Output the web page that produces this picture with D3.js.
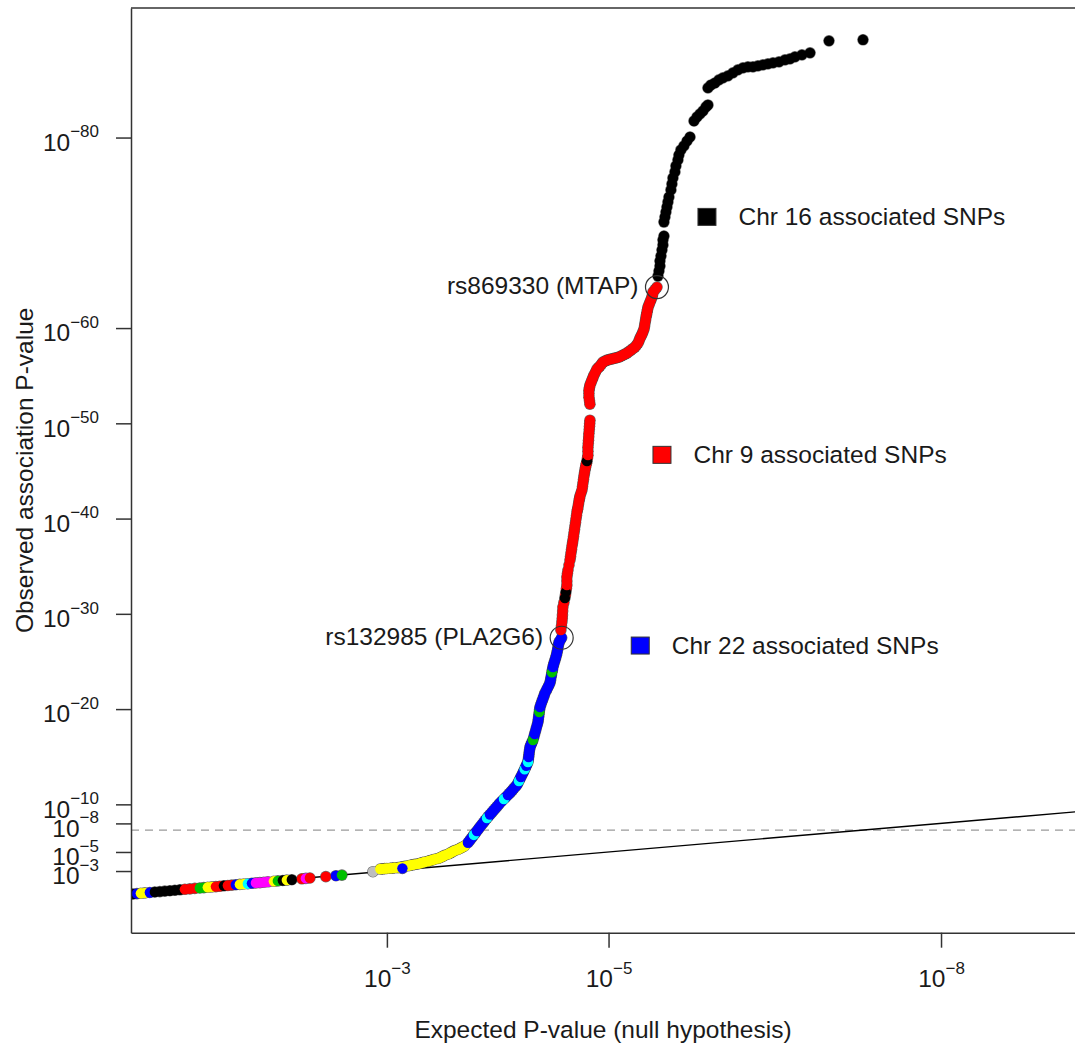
<!DOCTYPE html>
<html><head><meta charset="utf-8">
<script src="https://cdn.jsdelivr.net/npm/d3@7"></script>
<style>
body{margin:0;background:#fff}
svg{display:block}
text{font-family:"Liberation Sans",Arial,Helvetica,sans-serif;fill:#1a1a1a}
</style>
</head><body>
<svg id="chart" width="1075" height="1055"></svg>
<script>
// ---------- DATA (values are -log10 P) ----------
const xTickValues = [3, 5, 8];
const yTickValues = [3, 5, 8, 10, 20, 30, 40, 50, 60, 80];
const gwsThreshold = 7.301; // 5e-8

// genome-wide background (low end)
const lowExp = [0.708,0.744,0.780,0.816,0.861,0.906,0.951,0.996,1.042,1.087,1.132,1.177,1.222,1.267,1.312,1.348,1.384,1.421,1.457,1.493,1.529,1.565,1.601,1.637,1.673,1.709,1.745,1.782,1.818,1.854,1.890,1.926,1.980,2.016,2.061,2.097,2.142,2.233,2.269,2.305,2.449,2.540,2.594,2.874];
const lowObs = [0.588,0.630,0.661,0.703,0.745,0.798,0.840,0.892,0.934,0.987,1.029,1.081,1.123,1.175,1.217,1.259,1.291,1.333,1.364,1.406,1.448,1.480,1.522,1.564,1.595,1.637,1.669,1.711,1.753,1.784,1.826,1.868,1.921,1.963,2.005,2.047,2.089,2.183,2.225,2.267,2.414,2.508,2.571,2.930];
const lowChr = ['k','b','y','y','b','k','k','k','k','k','k','r','r','r','g','g','y','y','r','r','k','r','r','b','y','y','c','b','m','m','m','m','y','g','k','y','k','r','m','r','r','b','g','gr'];

// yellow band
const midFillExp = [2.96,3.00,3.05,3.10,3.14,3.19,3.23,3.28,3.32,3.37,3.41,3.46,3.50,3.55,3.59,3.64,3.68];
const midFillObs = [3.23,3.27,3.31,3.36,3.44,3.55,3.65,3.75,3.88,4.02,4.16,4.32,4.52,4.76,5.01,5.26,5.50];
const midExp = [2.94,2.98,3.03,3.07,3.12,3.16,3.21,3.25,3.30,3.34,3.39,3.43,3.48,3.52,3.57,3.61,3.66,3.70,3.14];
const midObs = [3.21,3.25,3.29,3.34,3.39,3.49,3.60,3.70,3.81,3.95,4.09,4.24,4.40,4.64,4.89,5.14,5.38,5.63,3.28];
const midChr = ['y','y','y','y','y','y','y','y','y','y','y','y','y','y','y','y','y','y','b'];

// chr 22 associated
const c22FillExp = [3.745,3.772,3.799,3.826,3.855,3.887,3.917,3.946,3.977,4.007,4.038,4.074,4.106,4.133,4.160,4.182,4.200,4.218,4.235,4.250,4.265,4.276,4.282,4.288,4.298,4.311,4.326,4.341,4.356,4.366,4.372,4.378,4.389,4.404,4.419,4.438,4.460,4.476,4.485,4.494,4.504,4.517,4.529,4.539,4.548,4.565];
const c22FillObs = [6.18,6.59,7.00,7.41,7.86,8.33,8.75,9.14,9.56,9.96,10.35,10.77,11.15,11.50,11.86,12.24,12.66,13.08,13.49,13.87,14.25,14.71,15.23,15.76,16.20,16.57,17.07,17.70,18.33,18.90,19.43,19.95,20.46,20.95,21.44,21.95,22.47,23.01,23.58,24.14,24.66,25.15,25.64,26.16,26.72,27.25];
const c22Exp = [3.731,3.758,3.785,3.812,3.839,3.871,3.903,3.930,3.961,3.993,4.020,4.056,4.092,4.119,4.146,4.173,4.191,4.209,4.227,4.243,4.257,4.273,4.279,4.284,4.291,4.304,4.318,4.333,4.348,4.363,4.369,4.375,4.381,4.396,4.411,4.426,4.449,4.471,4.480,4.489,4.498,4.510,4.523,4.534,4.543,4.552,4.577];
const c22Obs = [5.97,6.38,6.79,7.20,7.62,8.09,8.56,8.93,9.35,9.77,10.14,10.56,10.98,11.32,11.68,12.03,12.45,12.87,13.29,13.68,14.05,14.44,14.97,15.49,16.02,16.38,16.75,17.38,18.01,18.64,19.16,19.69,20.21,20.71,21.19,21.68,22.21,22.73,23.29,23.86,24.41,24.91,25.39,25.88,26.44,27.00,27.49];
const c22Chr = ['b','b','c','b','b','b','c','b','b','b','b','c','b','b','b','b','c','b','b','c','b','c','b','b','b','b','g','b','b','b','b','g','b','b','b','b','b','b','b','g','b','b','b','b','b','b','b'];

// chr 9 associated
const c9FillExp = [4.575,4.582,4.586,4.597,4.611,4.620,4.624,4.629,4.643,4.657,4.666,4.675,4.684,4.693,4.702,4.711,4.720,4.729,4.738,4.751,4.765,4.774,4.783,4.792,4.801,4.810,4.814,4.817,4.821,4.826,4.830,
  4.828,4.823,4.828,4.841,4.859,4.882,4.909,4.936,4.968,5.004,5.040,5.076,5.112,5.148,5.184,5.220,5.252,5.275,5.293,5.311,5.325,5.334,5.343,5.352,5.365,5.383,5.397,5.419];
const c9FillObs = [28.72,29.50,30.29,31.18,31.97,32.65,33.44,34.23,35.12,36.01,36.75,37.43,38.11,38.85,39.58,40.32,40.95,41.53,42.10,42.68,43.36,44.10,44.78,45.35,45.82,46.35,47.08,47.87,48.60,49.34,50.02,
  52.38,53.12,53.75,54.27,54.80,55.38,55.85,56.21,56.53,56.69,56.79,56.90,57.06,57.27,57.53,57.84,58.21,58.68,59.15,59.63,60.21,60.84,61.41,61.94,62.46,62.99,63.51,64.04];
const c9Exp = [4.570,4.579,4.584,4.588,4.606,4.615,4.624,4.624,4.634,4.652,4.661,4.670,4.679,4.688,4.697,4.706,4.715,4.724,4.733,4.742,4.760,4.769,4.778,4.787,4.796,4.805,4.814,4.814,4.819,4.823,4.828,4.832,4.832,4.823,4.823,4.832,4.850,4.868,4.895,4.922,4.949,4.986,5.022,5.058,5.094,5.130,5.166,5.202,5.238,5.266,5.284,5.302,5.320,5.329,5.338,5.347,5.356,5.374,5.392,5.401,5.437];
const c9Obs = [28.30,29.13,29.87,30.71,31.65,32.28,33.02,33.86,34.59,35.64,36.38,37.11,37.74,38.48,39.21,39.95,40.68,41.21,41.84,42.36,42.99,43.73,44.46,45.09,45.61,46.03,46.66,47.50,48.23,48.97,49.70,50.33,52.01,52.75,53.48,54.01,54.53,55.06,55.69,56.00,56.42,56.63,56.74,56.84,56.95,57.16,57.37,57.68,58.00,58.42,58.94,59.36,59.89,60.52,61.15,61.67,62.20,62.72,63.25,63.77,64.30];
const c9BlackIdx = [4, 5, 25];

// chr 16 associated
const c16Exp = [5.446,5.455,5.464,5.464,5.473,5.482,5.491,5.491,5.500,5.500,5.509,5.518,5.527,5.536,5.545,5.563,5.572,5.581,5.599,5.608,5.626,5.635,5.653,5.680,5.708,5.735,5.771,5.798,5.825,5.852,5.879,5.897,5.897,5.924,5.960,5.996,6.032,6.077,6.122,6.167,6.213,6.258,6.303,6.348,6.393,6.438,6.484,6.538,6.592,6.637,6.682,6.745,6.818,6.989,7.296];
const c16Obs = [65.46,65.99,66.51,67.04,67.56,68.19,68.72,69.24,69.66,71.13,71.66,72.18,72.71,73.23,73.76,74.50,75.13,75.76,76.39,77.02,77.65,78.17,78.70,79.12,79.64,80.06,81.74,82.16,82.48,82.79,83.21,83.42,85.21,85.52,85.73,86.05,86.26,86.47,86.79,87.10,87.31,87.42,87.42,87.52,87.63,87.73,87.84,87.94,88.15,88.26,88.47,88.68,88.89,90.15,90.26];

// annotated SNPs
const annotLabels = ['rs869330 (MTAP)', 'rs132985 (PLA2G6)'];
const annotExp = [5.437, 4.577];
const annotObs = [64.30, 27.49];

// legend
const legendLabels = ['Chr 16 associated SNPs', 'Chr 9 associated SNPs', 'Chr 22 associated SNPs'];
const legendChr = ['k', 'r', 'b'];

// ---------- STYLE / LAYOUT ----------
const chrColors = {k:'#000000', r:'#ff0000', b:'#0000ff', g:'#00c000', y:'#ffff00', c:'#00ffff', m:'#ff00ff', gr:'#bebebe'};
const legendPos = [[5.888, 71.67], [5.482, 46.69], [5.286, 26.67]]; // square centres, data units
const FS = 24.5, SUP = 17;

const svg = d3.select('#chart');
const plotL = 131, plotT = 8, plotB = 932.7, plotR = 1080;
const x = d3.scaleLinear().domain([0.691, 9.254]).range([plotL, plotR]);
const y = d3.scaleLinear().domain([-3.474, 93.6]).range([plotB, plotT]);

svg.append('defs').append('clipPath').attr('id', 'clip')
  .append('rect').attr('x', plotL).attr('y', plotT).attr('width', plotR - plotL).attr('height', plotB - plotT);

const body = svg.append('g').attr('clip-path', 'url(#clip)');

// threshold & diagonal
body.append('line')
  .attr('x1', x(x.domain()[0])).attr('x2', x(x.domain()[1]))
  .attr('y1', y(gwsThreshold)).attr('y2', y(gwsThreshold))
  .attr('stroke', '#9a9a9a').attr('stroke-width', 1.3).attr('stroke-dasharray', '8,6');
body.append('line')
  .attr('x1', x(x.domain()[0])).attr('y1', y(x.domain()[0]))
  .attr('x2', x(x.domain()[1])).attr('y2', y(x.domain()[1]))
  .attr('stroke', '#000').attr('stroke-width', 1.4);

// points
function pts(ex, ob, chFn) { return ex.map((e, i) => ({e, o: ob[i], c: chFn(i)})); }
const all = [].concat(
  pts(lowExp, lowObs, i => lowChr[i]),
  pts(midFillExp, midFillObs, () => 'y'),
  pts(midExp, midObs, i => midChr[i]),
  pts(c22FillExp, c22FillObs, () => 'b'),
  pts(c22Exp, c22Obs, i => c22Chr[i]),
  pts(c9FillExp, c9FillObs, () => 'r'),
  pts(c9Exp, c9Obs, i => c9BlackIdx.includes(i) ? 'k' : 'r'),
  pts(c16Exp, c16Obs, () => 'k')
);
// outline layer then fill layer
body.append('g').selectAll('circle').data(all).join('circle')
  .attr('cx', d => x(d.e)).attr('cy', d => y(d.o)).attr('r', 5.8)
  .attr('fill', '#3c3c3c').attr('fill-opacity', 0.75);
body.append('g').selectAll('circle').data(all).join('circle')
  .attr('cx', d => x(d.e)).attr('cy', d => y(d.o)).attr('r', 5.2)
  .attr('fill', d => chrColors[d.c]);

// annotations
annotLabels.forEach((lab, i) => {
  const cx = x(annotExp[i]), cy = y(annotObs[i]);
  svg.append('circle').attr('cx', cx).attr('cy', cy).attr('r', 11.5)
    .attr('fill', 'none').attr('stroke', '#333').attr('stroke-width', 1.2);
  svg.append('text').attr('x', cx - 18.5).attr('y', cy + 7).attr('text-anchor', 'end')
    .attr('font-size', FS).text(lab);
});

// legend
legendLabels.forEach((lab, i) => {
  const cx = x(legendPos[i][0]), cy = y(legendPos[i][1]);
  svg.append('rect').attr('x', cx - 9).attr('y', cy - 8.5).attr('width', 18).attr('height', 17)
    .attr('fill', chrColors[legendChr[i]]).attr('stroke', '#333').attr('stroke-width', 1);
  svg.append('text').attr('x', cx + 31.5).attr('y', cy + 8.5).attr('font-size', FS).text(lab);
});

// axes
const axL = svg.append('g').attr('transform', `translate(${plotL},0)`)
  .call(d3.axisLeft(y).tickValues(yTickValues).tickSize(15).tickSizeOuter(0).tickPadding(17).tickFormat(() => ''));
const axB = svg.append('g').attr('transform', `translate(0,${plotB})`)
  .call(d3.axisBottom(x).tickValues(xTickValues).tickSize(15).tickSizeOuter(0).tickFormat(() => ''));
[axL, axB].forEach(a => {
  a.select('.domain').attr('stroke', '#333').attr('stroke-width', 1.5);
  a.selectAll('.tick line').attr('stroke', '#333').attr('stroke-width', 1.5);
});
function supLabel(t, v) {
  t.text(null).attr('font-size', FS).attr('fill', '#1a1a1a');
  t.append('tspan').text('10');
  t.append('tspan').attr('font-size', SUP).attr('dy', -13.3).text('\u2212' + v);
}
axL.selectAll('.tick text').each(function(v) {
  const t = d3.select(this).attr('dy', 0).attr('y', 12.7).attr('x', -32);
  supLabel(t, v);
});
axB.selectAll('.tick text').each(function(v) {
  const t = d3.select(this).attr('dy', 0).attr('y', 54.3);
  supLabel(t, v);
});
// top border
svg.append('line').attr('x1', plotL).attr('x2', plotR).attr('y1', plotT).attr('y2', plotT)
  .attr('stroke', '#333').attr('stroke-width', 1.5);

// axis titles
svg.append('text').attr('x', (plotL + 1075) / 2).attr('y', 1038).attr('text-anchor', 'middle')
  .attr('font-size', FS).text('Expected P-value (null hypothesis)');
svg.append('text').attr('transform', `translate(33,${(plotT + plotB) / 2}) rotate(-90)`)
  .attr('text-anchor', 'middle').attr('font-size', FS).text('Observed association P-value');
</script>
</body></html>
